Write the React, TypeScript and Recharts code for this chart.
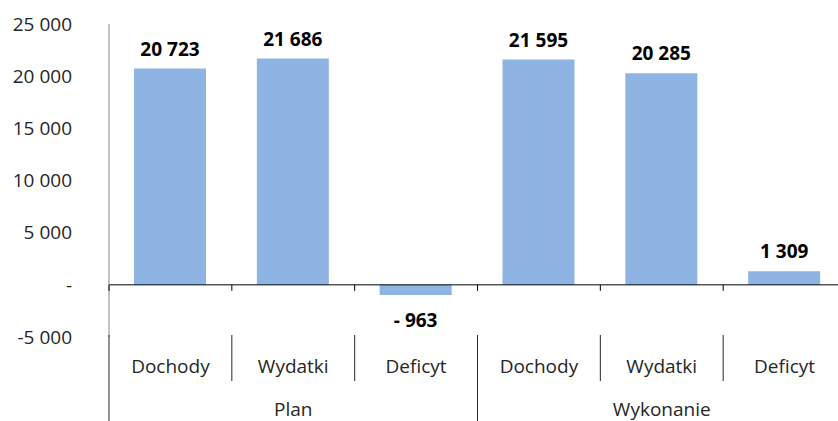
import { Bar, BarChart, LabelList, ReferenceLine, XAxis, YAxis } from "recharts";

const categories = ["Dochody", "Wydatki", "Deficyt", "Dochody", "Wydatki", "Deficyt"];
const groups = ["Plan", "Plan", "Plan", "Wykonanie", "Wykonanie", "Wykonanie"];
const values = [20723, 21686, -963, 21595, 20285, 1309];
const yTicks = [-5000, 0, 5000, 10000, 15000, 20000, 25000];

const data = categories.map((c, i) => ({ category: c, group: groups[i], value: values[i] }));

const CHART_W = 846;
const CHART_H = 421;
const TOP = 24;
const Y_AXIS_W = 109;
const CAT_H = 45;
const GRP_H = 39;
const Y_MIN = -5000;
const Y_MAX = 25000;
const BAND = (CHART_W - Y_AXIS_W) / categories.length;
const FONT = "'Open Sans', sans-serif";

const withSpaces = (n: number) => String(n).replace(/\B(?=(\d{3})+(?!\d))/g, " ");

const fmtTick = (v: number) => (v === 0 ? "-" : v < 0 ? "-" + withSpaces(-v) : withSpaces(v));
const fmtLabel = (v: number) => (v < 0 ? "- " + withSpaces(-v) : withSpaces(v));

function CategoryTick(props: any) {
  const { x, y, payload, index } = props;
  const left = x - BAND / 2;
  const plotH = y - TOP;
  const zeroY = y - ((0 - Y_MIN) / (Y_MAX - Y_MIN)) * plotH;
  const groupStart = index === 0 || groups[index] !== groups[index - 1];
  return (
    <g>
      <line x1={left} x2={left} y1={zeroY} y2={zeroY + 6} stroke="#000" />
      <line x1={left} x2={left} y1={y - 2} y2={groupStart ? y + CAT_H + GRP_H : y + 44} stroke="#262626" />
      <text x={x} y={y + 36} textAnchor="middle" fontSize={19} fontFamily={FONT} fill="#262626">
        {payload.value}
      </text>
    </g>
  );
}

function GroupTick(props: any) {
  const { x, y, payload } = props;
  return (
    <text x={x} y={y + 34} textAnchor="middle" fontSize={19} fontFamily={FONT} fill="#262626">
      {payload.value}
    </text>
  );
}

function ValueLabel(props: any) {
  const { x, y, width, height, value } = props;
  const top = Math.min(y, y + height);
  const bottom = Math.max(y, y + height);
  const cx = x + width / 2;
  const ty = value < 0 ? bottom + 32 : top - 13;
  return (
    <text x={cx} y={ty} textAnchor="middle" fontSize={19} fontWeight="bold" fontFamily={FONT} fill="#000">
      {fmtLabel(value)}
    </text>
  );
}

export default function App() {
  return (
    <div style={{ position: "absolute", left: 0, top: 0, width: 838, height: 421, overflow: "hidden", background: "#fff" }}>
      <BarChart
        width={CHART_W}
        height={CHART_H}
        data={data}
        margin={{ top: TOP, right: 0, left: 0, bottom: 0 }}
      >
        <YAxis
          domain={[Y_MIN, Y_MAX]}
          ticks={yTicks}
          width={Y_AXIS_W}
          tickFormatter={fmtTick}
          axisLine={{ stroke: "#898989" }}
          tickLine={false}
          tickSize={0}
          tickMargin={37}
          tick={{ fontSize: 19, fontFamily: FONT, fill: "#262626" }}
          interval={0}
        />
        <XAxis
          xAxisId="cat"
          dataKey="category"
          height={CAT_H}
          axisLine={false}
          tickLine={false}
          tickSize={0}
          tickMargin={0}
          interval={0}
          tick={<CategoryTick />}
        />
        <XAxis
          xAxisId="grp"
          dataKey="group"
          allowDuplicatedCategory={false}
          height={GRP_H}
          axisLine={false}
          tickLine={false}
          tickSize={0}
          tickMargin={0}
          interval={0}
          tick={<GroupTick />}
        />
        <ReferenceLine xAxisId="cat" y={0} stroke="#000" />
        <Bar xAxisId="cat" dataKey="value" fill="#8EB4E3" barSize={72} isAnimationActive={false}>
          <LabelList dataKey="value" content={<ValueLabel />} />
        </Bar>
      </BarChart>
    </div>
  );
}
